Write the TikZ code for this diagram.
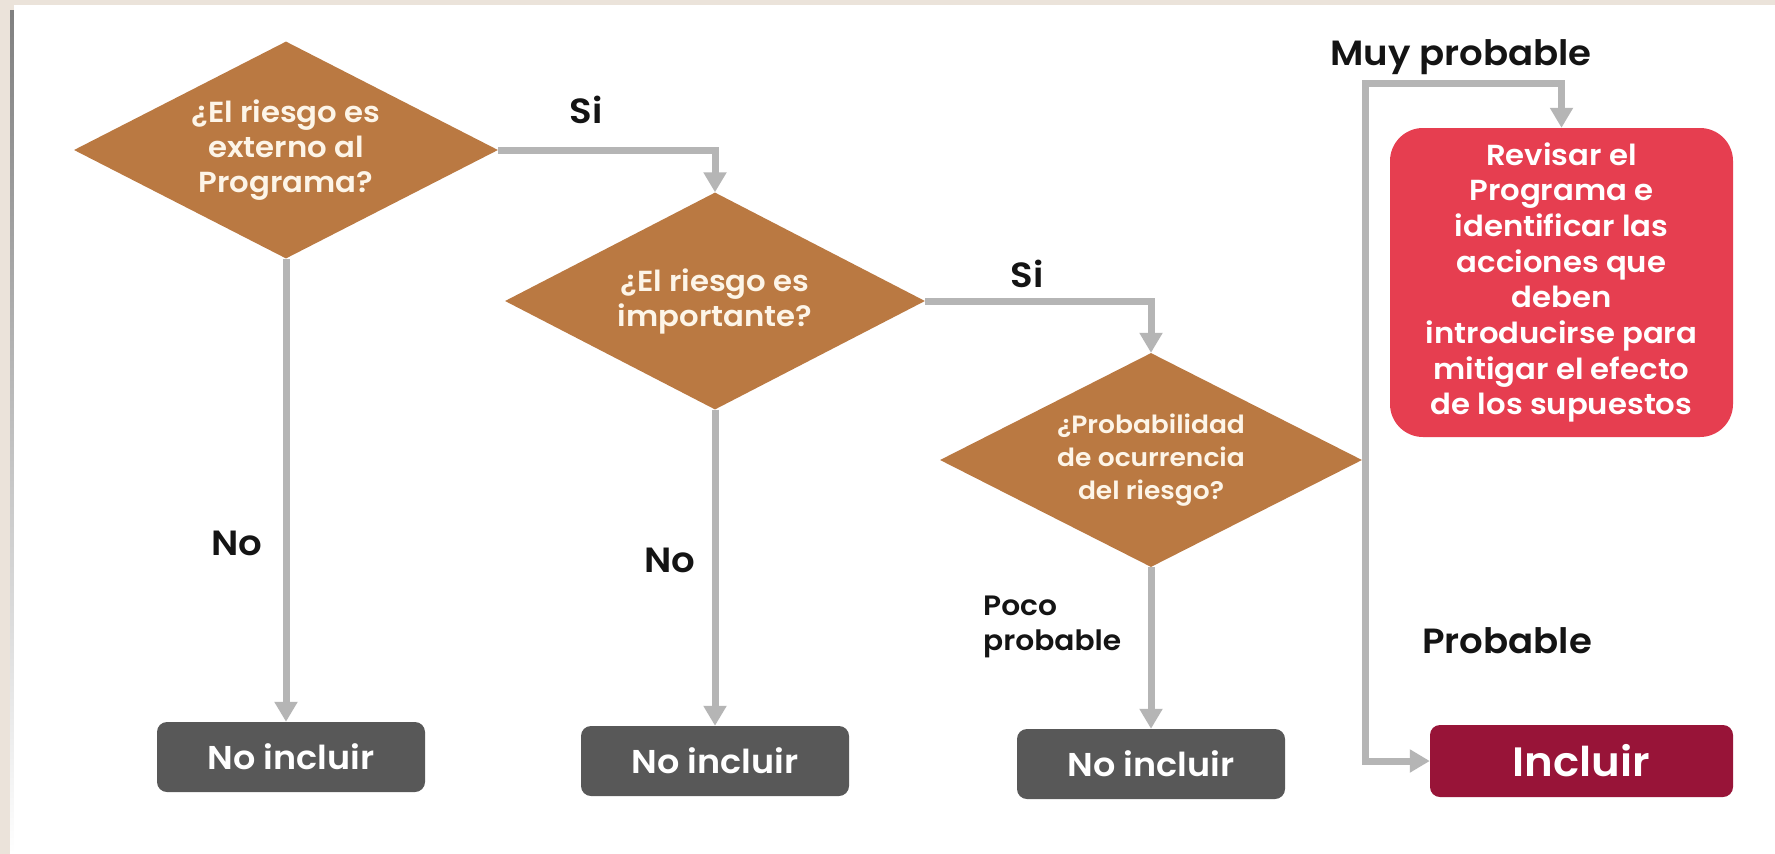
\documentclass[tikz,border=0pt]{standalone}
\usepackage{fontspec}
\IfFontExistsTF{Poppins SemiBold}
  {\setmainfont{Poppins}[BoldFont={Poppins SemiBold}, FakeStretch=1.06]}
  {\setmainfont{Poppins}[FakeStretch=1.04]}
\usetikzlibrary{shapes.geometric,arrows.meta,calc}
\definecolor{frame}{RGB}{235,227,218}
\definecolor{shade}{RGB}{160,150,140}
\definecolor{dia}{RGB}{186,121,66}
\definecolor{redbox}{RGB}{230,62,80}
\definecolor{incbox}{RGB}{152,20,56}
\definecolor{graybox}{RGB}{88,88,88}
\definecolor{conncol}{RGB}{181,181,181}
\definecolor{cream}{RGB}{253,245,232}
\tikzset{
  decision/.style={diamond, fill=dia, inner sep=0pt, aspect=1.95, text=cream,
    font=\bfseries\fontsize{29}{35}\selectfont, align=center},
  endbox/.style={rectangle, rounded corners=10pt, fill=graybox, text=white,
    minimum width=268pt, minimum height=70pt, inner sep=0pt,
    font=\bfseries\fontsize{33}{40}\selectfont},
  conn/.style={draw=conncol, line width=7pt,
    -{Triangle[width=22pt,length=20pt]}},
  plain/.style={draw=conncol, line width=7pt},
  lbl/.style={text=black!92, inner sep=0pt, font=\bfseries\fontsize{35}{40}\selectfont}
}
\begin{document}
\begin{tikzpicture}[x=1pt,y=-1pt]
\useasboundingbox (0,0) rectangle (1775,854);
\fill[frame] (0,0) rectangle (1775,854);
\fill[shade] (10,10) rectangle (15,854);
\fill[white] (14,5) rectangle (1775,854);

% decisions
\node[decision, minimum width=424pt, minimum height=217pt] (d1) at (286,150)
  {¿El riesgo es\\externo al\\Programa?};
\node[decision, minimum width=420pt, minimum height=217pt] (d2) at (715,301)
  {¿El riesgo es\\importante?};
\node[decision, minimum width=422pt, minimum height=214pt,
  font=\bfseries\fontsize{25}{33}\selectfont] (d3) at (1151,460)
  {¿Probabilidad\\de ocurrencia\\del riesgo?};

% outcome boxes
\node[endbox] (n1) at (291,757) {No incluir};
\node[endbox] (n2) at (715,761) {No incluir};
\node[endbox] (n3) at (1151,764) {No incluir};
\node[rectangle, rounded corners=33pt, fill=redbox, text=white,
  minimum width=343pt, minimum height=309pt, inner sep=0pt, align=center,
  font=\bfseries\fontsize{29}{35.7}\selectfont] (r) at (1561.5,282.5)
  {Revisar el\\Programa e\\identificar las\\acciones que\\deben\\introducirse para\\mitigar el efecto\\de los supuestos};
\node[rectangle, rounded corners=10pt, fill=incbox, text=white,
  minimum width=303pt, minimum height=72pt, inner sep=0pt,
  font=\bfseries\fontsize{41}{48}\selectfont] (inc) at (1581.5,761) {Incluir};

% junction coordinates
\coordinate (j) at (1365,460);
\coordinate (up) at (1365,83);

% connectors
\draw[conn] (d1.east) -| (d2.north);
\draw[conn] (d2.east) -| (d3.north);
\draw[conn] (d1.south) -- (d1.south |- n1.north);
\draw[conn] (d2.south) -- (n2.north);
\draw[conn] (d3.south) -- (n3.north);
\draw[plain] (d3.east) -- (j);
\draw[conn] (j) -- (up) -| (r.north);
\draw[conn] (j) |- (inc.west);

% labels
\node[lbl, anchor=base] (s1) at (586,123) {Si};
\node[lbl, anchor=base] (s2) at (1027,287) {Si};
\node[lbl, anchor=base] (no1) at (237,555) {No};
\node[lbl, anchor=base] (no2) at (670,572) {No};
\node[lbl, anchor=base] (mp) at (1461,65) {Muy probable};
\node[lbl, anchor=base] (pr) at (1507,653) {Probable};
\node[lbl, anchor=north west, align=left,
  font=\bfseries\fontsize{28}{35}\selectfont] (pp) at (983,596) {Poco\\probable};
\end{tikzpicture}
\end{document}
